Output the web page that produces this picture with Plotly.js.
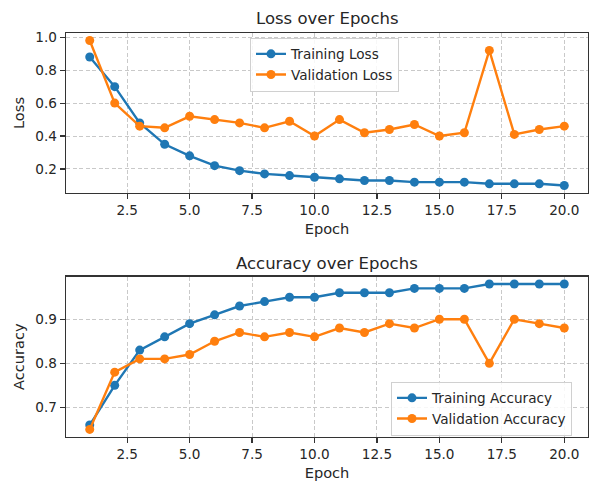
<!DOCTYPE html>
<html>
<head>
<meta charset="utf-8">
<script src="https://cdn.plot.ly/plotly-3.0.1.min.js"></script>
<style>html,body{margin:0;padding:0;background:#fff;}#chart{width:591px;height:482px;}</style>
</head>
<body>
<div id="chart"></div>
<script>
const epochs = [1,2,3,4,5,6,7,8,9,10,11,12,13,14,15,16,17,18,19,20];
const trainLoss = [0.88,0.70,0.48,0.35,0.28,0.22,0.19,0.17,0.16,0.15,0.14,0.13,0.13,0.12,0.12,0.12,0.11,0.11,0.11,0.10];
const valLoss = [0.98,0.60,0.46,0.45,0.52,0.50,0.48,0.45,0.49,0.40,0.50,0.42,0.44,0.47,0.40,0.42,0.92,0.41,0.44,0.46];
const trainAcc = [0.66,0.75,0.83,0.86,0.89,0.91,0.93,0.94,0.95,0.95,0.96,0.96,0.96,0.97,0.97,0.97,0.98,0.98,0.98,0.98];
const valAcc = [0.65,0.78,0.81,0.81,0.82,0.85,0.87,0.86,0.87,0.86,0.88,0.87,0.89,0.88,0.90,0.90,0.80,0.90,0.89,0.88];

const BLUE = '#1f77b4', ORANGE = '#ff7f0e';
const FONT = 'DejaVu Sans, sans-serif';
const TXT = '#262626';

function tr(x, y, name, color, xa, ya, leg) {
  return {x: x, y: y, name: name, type: 'scatter', mode: 'lines+markers',
    line: {color: color, width: 2.4}, marker: {color: color, size: 9},
    xaxis: xa, yaxis: ya, legend: leg};
}
const data = [
  tr(epochs, trainLoss, 'Training Loss', BLUE, 'x', 'y', 'legend'),
  tr(epochs, valLoss, 'Validation Loss', ORANGE, 'x', 'y', 'legend'),
  tr(epochs, trainAcc, 'Training Accuracy', BLUE, 'x2', 'y2', 'legend2'),
  tr(epochs, valAcc, 'Validation Accuracy', ORANGE, 'x2', 'y2', 'legend2')
];

const W = 591, H = 482;
const xdom = [66 / W, 588 / W];
const axCommon = {
  showline: true, mirror: true, linecolor: '#333333', linewidth: 1.3,
  ticks: 'outside', ticklen: 5, tickcolor: '#333333', tickwidth: 1.2,
  showgrid: true, gridcolor: '#c9c9c9', griddash: '4px,2.5px', gridwidth: 1,
  zeroline: false, tickfont: {family: FONT, size: 13.6, color: TXT}
};
function xax(anchor, title) {
  return Object.assign({}, axCommon, {
    domain: xdom, anchor: anchor, range: [0.05, 20.95], tick0: 0, dtick: 2.5, tickformat: '.1f',
    title: {text: title, font: {family: FONT, size: 14.6, color: TXT}, standoff: 6}
  });
}
function yax(anchor, dom, range, dtick, title) {
  return Object.assign({}, axCommon, {
    domain: dom, anchor: anchor, range: range, tick0: 0, dtick: dtick, tickformat: '.1f',
    title: {text: title, font: {family: FONT, size: 14.6, color: TXT}, standoff: 7}
  });
}

const legendStyle = {
  bgcolor: 'rgba(255,255,255,0.85)', bordercolor: '#d0d0d0', borderwidth: 1,
  font: {family: FONT, size: 13.6, color: TXT}, xanchor: 'left', yanchor: 'top',
  tracegroupgap: 0, itemwidth: 30
};

const layout = {
  width: W, height: H, margin: {l: 0, r: 0, t: 0, b: 0},
  paper_bgcolor: '#fff', plot_bgcolor: '#fff',
  font: {family: FONT, color: TXT},
  showlegend: true,
  xaxis: xax('y', 'Epoch'),
  yaxis: yax('x', [1 - 192.7 / H, 1 - 33.3 / H], [0.056, 1.024], 0.2, 'Loss'),
  xaxis2: xax('y2', 'Epoch'),
  yaxis2: yax('x2', [1 - 436.7 / H, 1 - 276.7 / H], [0.6335, 0.9965], 0.1, 'Accuracy'),
  legend: Object.assign({}, legendStyle, {x: 250 / W, y: 1 - 37.5 / H}),
  legend2: Object.assign({}, legendStyle, {x: 391 / W, y: 1 - 381.5 / H}),
  annotations: [
    {text: 'Loss over Epochs', xref: 'paper', yref: 'paper', x: 327 / W, y: 1 - 18.5 / H,
     xanchor: 'center', yanchor: 'middle', showarrow: false, font: {family: FONT, size: 16.5, color: TXT}},
    {text: 'Accuracy over Epochs', xref: 'paper', yref: 'paper', x: 327 / W, y: 1 - 263 / H,
     xanchor: 'center', yanchor: 'middle', showarrow: false, font: {family: FONT, size: 16.5, color: TXT}}
  ]
};

Plotly.newPlot('chart', data, layout, {displayModeBar: false, staticPlot: true});
</script>
</body>
</html>
